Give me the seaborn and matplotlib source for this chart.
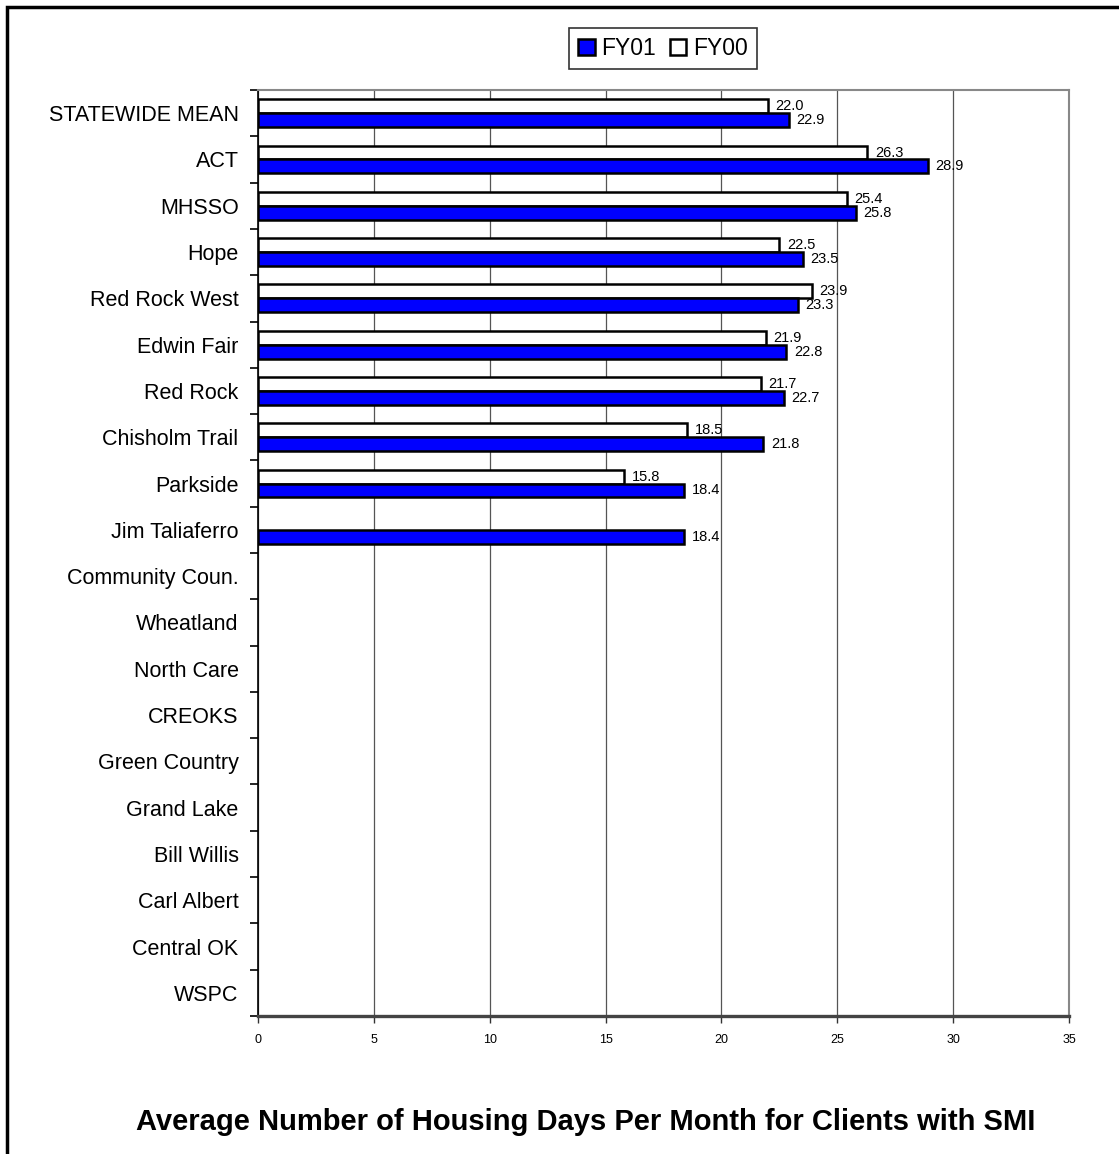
import numpy as np
import pandas as pd
import matplotlib
matplotlib.use("Agg")
import matplotlib.pyplot as plt
from matplotlib.patches import Patch, Rectangle
import seaborn as sns

# chart data
categories = ["STATEWIDE MEAN", "ACT", "MHSSO", "Hope", "Red Rock West", "Edwin Fair",
              "Red Rock", "Chisholm Trail", "Parkside", "Jim Taliaferro", "Community Coun.",
              "Wheatland", "North Care", "CREOKS", "Green Country", "Grand Lake",
              "Bill Willis", "Carl Albert", "Central OK", "WSPC"]
fy01 = [22.9, 28.9, 25.8, 23.5, 23.3, 22.8, 22.7, 21.8, 18.4, 18.4,
        np.nan, np.nan, np.nan, np.nan, np.nan, np.nan, np.nan, np.nan, np.nan, np.nan]
fy00 = [22.0, 26.3, 25.4, 22.5, 23.9, 21.9, 21.7, 18.5, 15.8, np.nan,
        np.nan, np.nan, np.nan, np.nan, np.nan, np.nan, np.nan, np.nan, np.nan, np.nan]

df = pd.DataFrame({
    "center": categories * 2,
    "year": ["FY00"] * len(categories) + ["FY01"] * len(categories),
    "days": fy00 + fy01,
})

sns.set_style("white")
plt.rcParams["font.family"] = ["Liberation Sans", "DejaVu Sans"]
plt.rcParams["text.color"] = "black"
plt.rcParams["xtick.color"] = "black"
plt.rcParams["ytick.color"] = "black"

fig = plt.figure(figsize=(11.19, 11.54), dpi=100)
ax = fig.add_axes([0.2306, 0.1196, 0.7248, 0.8024])

sns.barplot(data=df, y="center", x="days", hue="year", order=categories,
            hue_order=["FY00", "FY01"], palette={"FY00": "white", "FY01": "#0000ff"},
            orient="h", width=0.6, saturation=1, edgecolor="black", linewidth=1.8,
            errorbar=None, legend=False, ax=ax)

# value labels
for cont, vals in zip(ax.containers, [fy00, fy01]):
    for bar, v in zip(cont, vals):
        if np.isnan(v):
            continue
        yc = bar.get_y() + bar.get_height() / 2
        ax.text(v + 0.33, yc, f"{v:.1f}", va="center", ha="left", fontsize=10.5)

ax.set_xlim(0, 35)
ax.set_ylim(len(categories) - 0.5, -0.5)
ax.set_xticks(range(0, 36, 5))
ax.tick_params(axis="x", labelsize=9, length=5, width=1, direction="out", bottom=True,
               color="#333333", pad=8)
ax.set_yticks(range(len(categories)))
ax.set_yticklabels(categories, fontsize=15.5)
ax.tick_params(axis="y", length=0, pad=14)
ax.set_yticks(np.arange(-0.5, len(categories), 1), minor=True)
ax.tick_params(axis="y", which="minor", length=6, width=1.2, left=True, color="black")
ax.set_xlabel("")
ax.set_ylabel("")
ax.xaxis.grid(True, color="#555555", linewidth=0.9)
ax.set_axisbelow(True)

for side in ["top", "right"]:
    ax.spines[side].set_color("#888888")
    ax.spines[side].set_linewidth(1.5)
ax.spines["left"].set_color("black")
ax.spines["left"].set_linewidth(1.2)
ax.spines["bottom"].set_color("#444444")
ax.spines["bottom"].set_linewidth(2.4)

handles = [Patch(facecolor="#0000ff", edgecolor="black", linewidth=1.8, label="FY01"),
           Patch(facecolor="white", edgecolor="black", linewidth=1.8, label="FY00")]
fig.legend(handles=handles, loc="center", bbox_to_anchor=(0.5925, 0.958), ncol=2,
           fontsize=16.5, frameon=True, fancybox=False, edgecolor="black",
           handlelength=0.7, handleheight=0.7, handletextpad=0.3, columnspacing=0.6,
           borderpad=0.4)
fig.legends[0].get_frame().set_linewidth(1.2)

fig.text(0.523, 1 - 1122 / 1154, "Average Number of Housing Days Per Month for Clients with SMI",
         ha="center", va="center", fontsize=21, fontweight="bold")

fig.patches.append(Rectangle((7 / 1119, -0.05), 1.2, 1 - 7 / 1154 + 0.05,
                             transform=fig.transFigure, fill=False,
                             edgecolor="black", linewidth=2.5))

fig.savefig("out.png", dpi=100)
